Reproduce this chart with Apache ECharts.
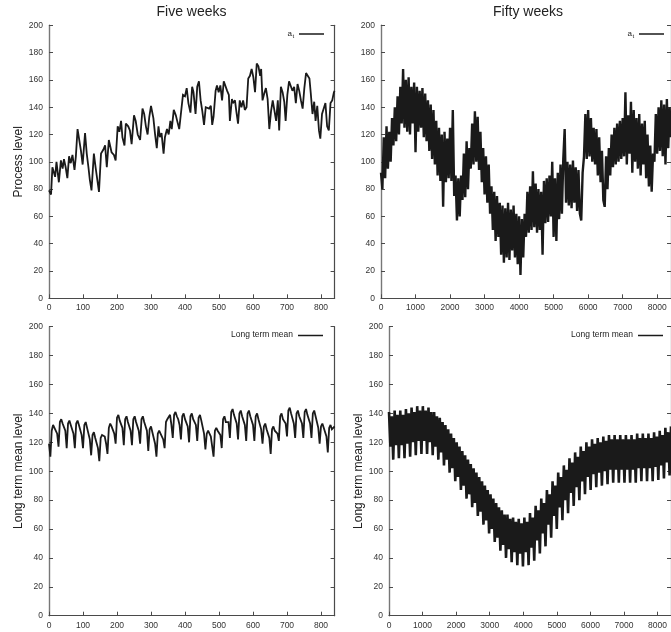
<!DOCTYPE html>
<html>
<head>
<meta charset="utf-8">
<script src="https://cdn.jsdelivr.net/npm/echarts@6/dist/echarts.min.js"></script>
<style>
  html, body { margin: 0; padding: 0; background: #ffffff; }
  #chart { width: 671px; height: 632px; }
</style>
</head>
<body>
<div id="chart"></div>
<script>
// Process level over five weeks (hour, level)
const fiveWeekHours = [0,6,10,18,22,29,35,40,44,49,54,59,64,69,75,79,84,89,94,99,106,111,116,120,125,132,137,142,147,153,160,165,170,176,184,191,196,202,207,212,216,222,226,233,238,243,250,255,261,268,275,280,285,290,295,300,307,312,317,322,326,331,337,341,347,352,357,361,367,373,377,383,388,394,400,405,410,416,421,425,431,436,441,446,451,456,461,466,471,476,480,484,490,494,499,504,509,514,519,524,529,532,538,541,547,551,556,561,566,571,576,581,586,591,596,601,606,611,616,621,624,628,633,638,643,648,653,658,663,668,673,677,682,687,692,696,701,706,711,716,721,726,731,736,741,746,751,756,761,766,770,775,780,784,789,794,798,803,808,813,818,823,828,833,838,840];
const fiveWeekLevel = [79,76,96,89,100,85,101,95,102,96,88,104,99,105,94,104,124,123,108,98,121,106,96,87,79,106,96,95,78,106,109,112,96,116,107,105,101,126,122,130,118,112,128,126,123,113,134,130,120,116,139,135,126,120,133,141,132,120,110,126,118,121,106,118,124,120,130,124,138,134,130,124,123,149,148,154,143,136,155,151,135,155,159,145,137,127,140,141,139,141,127,133,152,156,151,156,145,159,160,152,149,130,146,143,145,137,128,145,140,145,138,140,161,163,168,162,151,172,170,163,168,145,150,154,146,124,137,145,144,130,145,123,155,151,144,130,149,159,159,152,155,143,157,152,145,139,154,165,165,161,150,135,144,130,141,123,117,135,139,143,126,123,143,145,151,152];

// Process level over fifty weeks, one reading every 40 hours
const fiftyWeekStep = 40;
const fiftyWeekLevel = [
  92,80,118,88,126, 95,122,100,132,112, 140,115,148,120,155, 128,168,125,160,122,
  162,120,155,128,158, 107,155,122,152,125, 154,118,150,115,145, 108,142,102,138,98,
  130,90,125,86,120, 67,122,85,117,88, 125,86,138,75,90, 57,88,60,90,72,
  106,74,115,80,110, 95,128,98,137,100, 133,94,122,85,110, 76,104,70,98,62,
  82,50,78,42,75, 45,70,32,68,26, 66,30,70,28,65, 35,68,30,62,25,
  60,17,58,30,62, 45,78,48,82,50, 93,52,84,48,80, 50,78,32,86,55,
  88,56,90,60,100, 45,88,42,92,58, 98,62,102,124,70, 100,68,98,66,101,
  70,96,64,94,62, 57,92,104,135,102, 138,104,132,100,125, 98,124,90,118,85,
  108,72,67,104,80, 110,90,120,96,125, 98,128,100,130,102, 132,104,151,98,134,
  106,144,92,138,100, 132,95,135,90,128, 98,130,88,120,82, 112,78,106,100,135,
  106,140,108,145,104, 142,98,146,110,140, 118
];

// Long term mean level over five weeks, one reading every 4 hours
const fiveWeekMeanStep = 4;
const fiveWeekMean = [
  119,110,128,132,130,131, 126,117,134,136,133,132, 128,116,133,135,132,131, 126,116,133,135,132,131,
  125,116,132,134,130,129, 122,111,125,127,123,123, 116,107,123,125,124,124, 119,112,130,133,131,131,
  126,119,137,139,135,135, 130,118,136,138,134,134, 128,118,136,138,134,134, 128,119,136,138,134,133,
  128,114,129,131,127,126, 119,110,126,128,126,127, 122,116,134,136,136,139, 132,123,139,141,138,136,
  132,122,138,140,136,135, 131,120,138,140,136,137, 132,121,137,139,135,134, 126,115,126,128,126,124,
  123,110,128,130,128,128, 125,116,136,138,134,135, 134,123,141,143,139,139, 133,122,140,142,138,138,
  132,121,140,142,138,137, 132,121,138,140,136,135, 129,119,131,133,129,128, 123,112,129,131,128,128,
  126,121,138,140,136,136, 133,124,142,144,140,140, 133,123,140,142,138,138, 133,123,141,143,139,139,
  133,123,140,142,138,137, 130,119,131,133,130,129, 124,113,130,132,129,130, 131
];

// Long term mean level over fifty weeks, one reading every 42 hours
const fiftyWeekMeanStep = 42;
const fiftyWeekMean = [
  141,117,138,108, 142,118,139,109, 142,118,139,109, 143,119,140,110, 144,120,141,111,
  145,121,142,112, 145,121,142,112, 144,120,141,111, 141,117,138,108, 137,113,134,104,
  132,108,129,99, 126,102,123,93, 120,96,117,87, 114,90,111,81, 108,84,105,75,
  102,78,99,69, 96,72,93,63, 90,66,87,57, 84,60,81,51, 78,54,75,45,
  73,49,70,40, 70,46,67,37, 68,44,65,35, 67,43,64,34, 68,44,65,35,
  71,47,68,38, 76,52,73,43, 81,57,78,48, 87,63,84,54, 93,69,90,60,
  99,75,96,66, 104,80,101,71, 109,85,106,76, 113,89,110,80, 117,93,114,84,
  120,96,117,87, 122,98,119,89, 123,99,120,90, 124,100,121,91, 125,101,122,92,
  125,101,122,92, 125,101,122,92, 125,101,122,92, 125,101,122,92, 126,102,123,93,
  126,102,123,93, 126,102,123,93, 127,103,124,94, 128,104,125,95, 130,106,127,97,
  131
];

const yTicks = { min: 0, max: 200, interval: 20 };
const fiveWeekSpan = { max: 840, interval: 100 };
const fiftyWeekSpan = { max: 8400, interval: 1000 };

const FONT = 'Liberation Sans, Arial, Helvetica, sans-serif';
const INK = '#1a1a1a';
const AXIS = '#4a4a4a';

function pairs(xs, ys) { return ys.map((v, i) => [xs[i], v]); }
function regular(step, ys) { return ys.map((v, i) => [i * step, v]); }

const grids = [
  { left: 49, top: 25.3, width: 285.6, height: 273 },
  { left: 381, top: 25.3, width: 293.7, height: 273 },
  { left: 49, top: 326.7, width: 285.6, height: 289 },
  { left: 389, top: 326.7, width: 285.6, height: 289 }
];

function plain(v) { return String(v); }

function xAxis(gridIndex, span) {
  return {
    type: 'value', gridIndex, min: 0, max: span.max, interval: span.interval,
    position: 'bottom',
    axisLine: { show: true, onZero: false, lineStyle: { color: AXIS, width: 1.2 } },
    axisTick: { show: true, inside: true, length: 4, lineStyle: { color: AXIS, width: 1 } },
    axisLabel: { color: '#333', fontSize: 8.5, fontFamily: FONT, margin: 5, showMaxLabel: false, formatter: plain },
    splitLine: { show: false }
  };
}
function yAxis(gridIndex, name) {
  return {
    type: 'value', gridIndex, position: 'left',
    min: yTicks.min, max: yTicks.max, interval: yTicks.interval,
    name: name || '', nameLocation: 'middle', nameGap: 23,
    nameTextStyle: { color: '#222', fontSize: 12, fontFamily: FONT },
    axisLine: { show: true, onZero: false, lineStyle: { color: '#777', width: 1.4 } },
    axisTick: { show: true, inside: true, length: 4, lineStyle: { color: AXIS, width: 1 } },
    axisLabel: { color: '#333', fontSize: 8.5, fontFamily: FONT, margin: 6, formatter: plain },
    splitLine: { show: false }
  };
}
function yMirror(gridIndex) {
  return {
    type: 'value', gridIndex, position: 'right',
    min: yTicks.min, max: yTicks.max, interval: yTicks.interval,
    axisLine: { show: true, onZero: false, lineStyle: { color: AXIS, width: 1.2 } },
    axisTick: { show: true, inside: true, length: 4, lineStyle: { color: AXIS, width: 1 } },
    axisLabel: { show: false },
    splitLine: { show: false }
  };
}
function lineSeries(name, xi, yi, data, width) {
  return {
    type: 'line', name, xAxisIndex: xi, yAxisIndex: yi, data,
    showSymbol: false, symbol: 'none', sampling: null, clip: true,
    lineStyle: { color: INK, width: width, join: 'miter', miterLimit: 2 },
    emphasis: { disabled: true }
  };
}

function legendKey(textRight, y, lineX0, lineX1, label) {
  const out = [];
  if (label === 'a_t') {
    out.push({ type: 'text', style: { text: 'a', x: textRight - 3, y: y, textAlign: 'right', textVerticalAlign: 'middle', fill: '#222', font: '8px ' + FONT } });
    out.push({ type: 'text', style: { text: 't', x: textRight - 2.5, y: y + 2.5, textAlign: 'left', textVerticalAlign: 'middle', fill: '#222', font: '6px ' + FONT } });
  } else {
    out.push({ type: 'text', style: { text: label, x: textRight, y: y, textAlign: 'right', textVerticalAlign: 'middle', fill: '#222', font: '8.5px ' + FONT } });
  }
  out.push({ type: 'line', shape: { x1: lineX0, y1: y + 0.5, x2: lineX1, y2: y + 0.5 }, style: { stroke: INK, lineWidth: 1.5 } });
  return out;
}

const chart = echarts.init(document.getElementById('chart'), null, { renderer: 'canvas' });
chart.setOption({
  animation: false,
  backgroundColor: '#ffffff',
  grid: grids,
  xAxis: [xAxis(0, fiveWeekSpan), xAxis(1, fiftyWeekSpan), xAxis(2, fiveWeekSpan), xAxis(3, fiftyWeekSpan)],
  yAxis: [
    yAxis(0, 'Process level'), yAxis(1, ''), yAxis(2, 'Long term mean level'), yAxis(3, 'Long term mean level'),
    yMirror(0), yMirror(1), yMirror(2), yMirror(3)
  ],
  series: [
    lineSeries('a_t five weeks', 0, 0, pairs(fiveWeekHours, fiveWeekLevel), 1.8),
    lineSeries('a_t fifty weeks', 1, 1, regular(fiftyWeekStep, fiftyWeekLevel), 2.4),
    lineSeries('Long term mean five weeks', 2, 2, regular(fiveWeekMeanStep, fiveWeekMean), 1.8),
    lineSeries('Long term mean fifty weeks', 3, 3, regular(fiftyWeekMeanStep, fiftyWeekMean), 2.6)
  ],
  graphic: [
    { type: 'text', style: { text: 'Five weeks', x: 191.5, y: 12, textAlign: 'center', textVerticalAlign: 'middle', fill: '#222', font: '14px ' + FONT } },
    { type: 'text', style: { text: 'Fifty weeks', x: 528, y: 12, textAlign: 'center', textVerticalAlign: 'middle', fill: '#222', font: '14px ' + FONT } },
    ...legendKey(295, 33.5, 299, 324, 'a_t'),
    ...legendKey(635, 33.5, 639, 664, 'a_t'),
    ...legendKey(293, 335, 298, 323, 'Long term mean'),
    ...legendKey(633, 335, 638, 663, 'Long term mean')
  ]
});
</script>
</body>
</html>
